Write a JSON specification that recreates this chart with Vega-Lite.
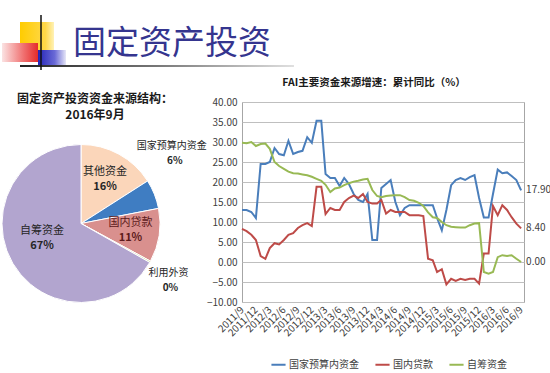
{
  "$schema": "https://vega.github.io/schema/vega-lite/v6.json",
  "padding": 0,
  "background": "white",
  "config": {"font": "Noto Sans CJK SC", "view": {"stroke": null}},
  "bounds": "flush",
  "spacing": 32,
  "resolve": {"scale": {"color": "independent"}},
  "vconcat": [
    {
      "width": 550,
      "height": 70,
      "data": {"values": [{"t": "固定资产投资"}]},
      "layer": [
        {
          "mark": {"type": "rect", "color": {"gradient": "linear", "stops": [{"offset": 0, "color": "#FFCC00"}, {"offset": 0.75, "color": "#FFD84A"}, {"offset": 1, "color": "#FFF2B8"}]}},
          "encoding": {
            "x": {"datum": 18, "type": "quantitative", "scale": {"domain": [0, 550], "nice": false, "zero": false}, "axis": null},
            "x2": {"datum": 52},
            "y": {"datum": 22, "type": "quantitative", "scale": {"domain": [0, 70], "reverse": true, "nice": false, "zero": false}, "axis": null},
            "y2": {"datum": 50}
          }
        },
        {
          "mark": {"type": "rect", "color": {"gradient": "linear", "stops": [{"offset": 0, "color": "#FBE3E3"}, {"offset": 0.6, "color": "#F07070"}, {"offset": 1, "color": "#E52B2B"}]}},
          "encoding": {
            "x": {"datum": 0, "type": "quantitative"},
            "x2": {"datum": 36},
            "y": {"datum": 43, "type": "quantitative"},
            "y2": {"datum": 62}
          }
        },
        {
          "mark": {"type": "rect", "color": {"gradient": "linear", "stops": [{"offset": 0, "color": "#2424B8"}, {"offset": 0.6, "color": "#6A6AD6"}, {"offset": 1, "color": "#E6E6F7"}]}},
          "encoding": {
            "x": {"datum": 36, "type": "quantitative"},
            "x2": {"datum": 64},
            "y": {"datum": 50, "type": "quantitative"},
            "y2": {"datum": 66}
          }
        },
        {
          "mark": {"type": "rect", "color": {"gradient": "linear", "stops": [{"offset": 0, "color": "#222222"}, {"offset": 0.5, "color": "#777777"}, {"offset": 1, "color": "#E0E0E0"}]}},
          "encoding": {
            "x": {"datum": 18, "type": "quantitative"},
            "x2": {"datum": 292},
            "y": {"datum": 65, "type": "quantitative"},
            "y2": {"datum": 67}
          }
        },
        {
          "mark": {"type": "rule", "color": "#111111", "strokeWidth": 1.5},
          "encoding": {
            "x": {"datum": 39, "type": "quantitative"},
            "y": {"datum": 15, "type": "quantitative"},
            "y2": {"datum": 70}
          }
        },
        {
          "mark": {"type": "text", "align": "left", "baseline": "middle", "fontSize": 33, "color": "#35358F"},
          "encoding": {
            "x": {"datum": 71, "type": "quantitative"},
            "y": {"datum": 44, "type": "quantitative"},
            "text": {"field": "t"}
          }
        }
      ]
    },
    {
      "hconcat": [
        {
          "width": 158,
          "height": 243,
          "data": {"values": [
            {"name": "其他资金", "value": 0.16, "k": 1},
            {"name": "国家预算内资金", "value": 0.06, "k": 2},
            {"name": "国内贷款", "value": 0.11, "k": 3},
            {"name": "利用外资", "value": 0.003, "k": 4},
            {"name": "自筹资金", "value": 0.67, "k": 5}
          ]},
          "title": {"text": ["固定资产投资资金来源结构：", "2016年9月"], "fontSize": 12, "fontWeight": "bold", "offset": -20, "frame": "group", "anchor": "middle", "dx": 14, "lineHeight": 16, "color": "#1a1a1a"},
          "encoding": {
            "theta": {"field": "value", "type": "quantitative", "stack": true},
            "order": {"field": "k", "type": "quantitative"},
            "detail": {"field": "name", "type": "nominal"}
          },
          "layer": [
            {
              "mark": {"type": "arc", "stroke": "#ffffff", "strokeWidth": 1},
              "encoding": {
                "color": {"field": "name", "type": "nominal", "scale": {"domain": ["其他资金", "国家预算内资金", "国内贷款", "利用外资", "自筹资金"], "range": ["#FBD6BA", "#3F7DC2", "#D9908E", "#C4CF8A", "#B2A5CF"]}, "legend": null}
              }
            },
            {
              "mark": {
                "type": "text",
                "radius": {"expr": "datum.k == 2 || datum.k == 4 ? 100 : (datum.k == 5 ? 45 : 50)"},
                "dy": {"expr": "datum.k == 2 ? -40 : (datum.k == 4 ? 1 : (datum.k == 5 ? -15 : -8))"},
                "dx": {"expr": "datum.k == 2 ? -2 : 0"},
                "fontSize": {"expr": "datum.k == 2 || datum.k == 4 ? 10 : 11"}
              },
              "encoding": {
                "text": {"field": "name"},
                "color": {"condition": {"test": "datum.k == 3", "value": "#5C1A1A"}, "value": "#262626"}
              }
            },
            {
              "mark": {
                "type": "text",
                "fontWeight": "bold",
                "radius": {"expr": "datum.k == 2 || datum.k == 4 ? 100 : (datum.k == 5 ? 45 : 50)"},
                "dy": {"expr": "datum.k == 2 ? -25 : (datum.k == 4 ? 16 : (datum.k == 5 ? 0 : 7))"},
                "dx": {"expr": "datum.k == 2 ? 1 : (datum.k == 4 ? 2 : 0)"},
                "fontSize": {"expr": "datum.k == 2 || datum.k == 4 ? 10 : 11"}
              },
              "encoding": {
                "text": {"field": "value", "format": ".0%"},
                "color": {"condition": {"test": "datum.k == 3", "value": "#5C1A1A"}, "value": "#262626"}
              }
            }
          ]
        },
        {
          "width": 282,
          "height": 200,
          "view": {"stroke": "#A6A6A6"},
          "title": {"text": "FAI主要资金来源增速：累计同比（%）", "fontSize": 10.5, "fontWeight": "bold", "offset": 9, "frame": "group", "anchor": "middle", "dx": -9, "color": "#1a1a1a"},
          "data": {"values": [
            {"d": "2011-09-01", "国家预算内资金": 13.0, "国内贷款": 8.3, "自筹资金": 29.8},
            {"d": "2011-10-01", "国家预算内资金": 13.0, "国内贷款": 7.7, "自筹资金": 29.7},
            {"d": "2011-11-01", "国家预算内资金": 12.5, "国内贷款": 6.8, "自筹资金": 30.0},
            {"d": "2011-12-01", "国家预算内资金": 11.0, "国内贷款": 5.5, "自筹资金": 29.0},
            {"d": "2012-01-01", "国家预算内资金": 24.5, "国内贷款": 1.5, "自筹资金": 29.5},
            {"d": "2012-02-01", "国家预算内资金": 24.5, "国内贷款": 0.8, "自筹资金": 29.6},
            {"d": "2012-03-01", "国家预算内资金": 25.0, "国内贷款": 3.5, "自筹资金": 28.3},
            {"d": "2012-04-01", "国家预算内资金": 28.5, "国内贷款": 4.7, "自筹资金": 25.0},
            {"d": "2012-05-01", "国家预算内资金": 27.0, "国内贷款": 4.4, "自筹资金": 24.0},
            {"d": "2012-06-01", "国家预算内资金": 26.7, "国内贷款": 5.5, "自筹资金": 23.3},
            {"d": "2012-07-01", "国家预算内资金": 30.3, "国内贷款": 6.8, "自筹资金": 22.6},
            {"d": "2012-08-01", "国家预算内资金": 27.0, "国内贷款": 7.2, "自筹资金": 22.2},
            {"d": "2012-09-01", "国家预算内资金": 27.5, "国内贷款": 8.5, "自筹资金": 22.1},
            {"d": "2012-10-01", "国家预算内资金": 27.8, "国内贷款": 9.2, "自筹资金": 21.9},
            {"d": "2012-11-01", "国家预算内资金": 31.2, "国内贷款": 9.7, "自筹资金": 21.7},
            {"d": "2012-12-01", "国家预算内资金": 29.8, "国内贷款": 9.0, "自筹资金": 21.3},
            {"d": "2013-01-01", "国家预算内资金": 35.3, "国内贷款": 18.8, "自筹资金": 20.8},
            {"d": "2013-02-01", "国家预算内资金": 35.3, "国内贷款": 18.8, "自筹资金": 20.3},
            {"d": "2013-03-01", "国家预算内资金": 22.0, "国内贷款": 12.0, "自筹资金": 19.3},
            {"d": "2013-04-01", "国家预算内资金": 21.0, "国内贷款": 13.5, "自筹资金": 17.5},
            {"d": "2013-05-01", "国家预算内资金": 21.0, "国内贷款": 13.0, "自筹资金": 18.4},
            {"d": "2013-06-01", "国家预算内资金": 19.0, "国内贷款": 13.0, "自筹资金": 18.6},
            {"d": "2013-07-01", "国家预算内资金": 21.0, "国内贷款": 15.0, "自筹资金": 19.2},
            {"d": "2013-08-01", "国家预算内资金": 19.5, "国内贷款": 16.0, "自筹资金": 19.7},
            {"d": "2013-09-01", "国家预算内资金": 17.0, "国内贷款": 16.6, "自筹资金": 20.1},
            {"d": "2013-10-01", "国家预算内资金": 15.5, "国内贷款": 16.0, "自筹资金": 20.3},
            {"d": "2013-11-01", "国家预算内资金": 15.0, "国内贷款": 17.0, "自筹资金": 20.6},
            {"d": "2013-12-01", "国家预算内资金": 17.0, "国内贷款": 15.0, "自筹资金": 20.8},
            {"d": "2014-01-01", "国家预算内资金": 5.5, "国内贷款": 14.6, "自筹资金": 18.0},
            {"d": "2014-02-01", "国家预算内资金": 5.5, "国内贷款": 14.6, "自筹资金": 16.5},
            {"d": "2014-03-01", "国家预算内资金": 18.5, "国内贷款": 15.5, "自筹资金": 16.2},
            {"d": "2014-04-01", "国家预算内资金": 19.5, "国内贷款": 12.1, "自筹资金": 16.5},
            {"d": "2014-05-01", "国家预算内资金": 20.5, "国内贷款": 13.0, "自筹资金": 16.6},
            {"d": "2014-06-01", "国家预算内资金": 15.0, "国内贷款": 12.5, "自筹资金": 16.7},
            {"d": "2014-07-01", "国家预算内资金": 11.7, "国内贷款": 12.5, "自筹资金": 16.7},
            {"d": "2014-08-01", "国家预算内资金": 13.5, "国内贷款": 12.5, "自筹资金": 16.2},
            {"d": "2014-09-01", "国家预算内资金": 14.2, "国内贷款": 11.7, "自筹资金": 15.5},
            {"d": "2014-10-01", "国家预算内资金": 14.2, "国内贷款": 11.7, "自筹资金": 15.3},
            {"d": "2014-11-01", "国家预算内资金": 14.2, "国内贷款": 11.7, "自筹资金": 14.8},
            {"d": "2014-12-01", "国家预算内资金": 14.2, "国内贷款": 11.5, "自筹资金": 14.0},
            {"d": "2015-01-01", "国家预算内资金": 14.2, "国内贷款": 0.8, "自筹资金": 12.4},
            {"d": "2015-02-01", "国家预算内资金": 14.2, "国内贷款": 0.4, "自筹资金": 11.2},
            {"d": "2015-03-01", "国家预算内资金": 11.0, "国内贷款": -2.5, "自筹资金": 11.0},
            {"d": "2015-04-01", "国家预算内资金": 7.9, "国内贷款": -1.8, "自筹资金": 10.0},
            {"d": "2015-05-01", "国家预算内资金": 13.0, "国内贷款": -5.6, "自筹资金": 9.2},
            {"d": "2015-06-01", "国家预算内资金": 19.2, "国内贷款": -4.2, "自筹资金": 8.8},
            {"d": "2015-07-01", "国家预算内资金": 20.5, "国内贷款": -4.7, "自筹资金": 8.7},
            {"d": "2015-08-01", "国家预算内资金": 21.0, "国内贷款": -4.2, "自筹资金": 8.6},
            {"d": "2015-09-01", "国家预算内资金": 20.5, "国内贷款": -4.5, "自筹资金": 8.6},
            {"d": "2015-10-01", "国家预算内资金": 21.2, "国内贷款": -4.2, "自筹资金": 9.2},
            {"d": "2015-11-01", "国家预算内资金": 21.7, "国内贷款": -4.2, "自筹资金": 9.6},
            {"d": "2015-12-01", "国家预算内资金": 16.0, "国内贷款": -5.4, "自筹资金": 9.7},
            {"d": "2016-01-01", "国家预算内资金": 11.1, "国内贷款": 2.1, "自筹资金": -2.5},
            {"d": "2016-02-01", "国家预算内资金": 11.1, "国内贷款": 2.1, "自筹资金": -2.9},
            {"d": "2016-03-01", "国家预算内资金": 17.0, "国内贷款": 14.0, "自筹资金": -2.5},
            {"d": "2016-04-01", "国家预算内资金": 23.1, "国内贷款": 11.7, "自筹资金": 1.2},
            {"d": "2016-05-01", "国家预算内资金": 22.2, "国内贷款": 14.2, "自筹资金": 1.7},
            {"d": "2016-06-01", "国家预算内资金": 22.4, "国内贷款": 13.0, "自筹资金": 1.5},
            {"d": "2016-07-01", "国家预算内资金": 21.5, "国内贷款": 11.2, "自筹资金": 1.7},
            {"d": "2016-08-01", "国家预算内资金": 20.5, "国内贷款": 9.6, "自筹资金": 0.8},
            {"d": "2016-09-01", "国家预算内资金": 17.9, "国内贷款": 8.4, "自筹资金": 0.0}
          ]},
          "transform": [{"fold": ["国家预算内资金", "国内贷款", "自筹资金"], "as": ["key", "value"]}],
          "encoding": {
            "x": {
              "field": "d", "type": "temporal", "timeUnit": "utcyearmonth",
              "scale": {"domain": [{"year": 2011, "month": 9, "date": 1, "utc": true}, {"year": 2016, "month": 9, "date": 20, "utc": true}]},
              "axis": {
                "title": null, "format": "%Y/%-m", "labelAngle": -45, "labelAlign": "right", "labelBaseline": "middle",
                "labelOverlap": false, "labelFontSize": 10, "labelColor": "#404040", "labelPadding": 6,
                "ticks": false, "domain": false, "grid": false,
                "values": [
                  {"year": 2011, "month": 9, "date": 1, "utc": true}, {"year": 2011, "month": 12, "date": 1, "utc": true},
                  {"year": 2012, "month": 3, "date": 1, "utc": true}, {"year": 2012, "month": 6, "date": 1, "utc": true},
                  {"year": 2012, "month": 9, "date": 1, "utc": true}, {"year": 2012, "month": 12, "date": 1, "utc": true},
                  {"year": 2013, "month": 3, "date": 1, "utc": true}, {"year": 2013, "month": 6, "date": 1, "utc": true},
                  {"year": 2013, "month": 9, "date": 1, "utc": true}, {"year": 2013, "month": 12, "date": 1, "utc": true},
                  {"year": 2014, "month": 3, "date": 1, "utc": true}, {"year": 2014, "month": 6, "date": 1, "utc": true},
                  {"year": 2014, "month": 9, "date": 1, "utc": true}, {"year": 2014, "month": 12, "date": 1, "utc": true},
                  {"year": 2015, "month": 3, "date": 1, "utc": true}, {"year": 2015, "month": 6, "date": 1, "utc": true},
                  {"year": 2015, "month": 9, "date": 1, "utc": true}, {"year": 2015, "month": 12, "date": 1, "utc": true},
                  {"year": 2016, "month": 3, "date": 1, "utc": true}, {"year": 2016, "month": 6, "date": 1, "utc": true},
                  {"year": 2016, "month": 9, "date": 1, "utc": true}
                ]
              }
            },
            "y": {
              "field": "value", "type": "quantitative",
              "scale": {"domain": [-10, 40], "nice": false, "zero": false},
              "axis": {"title": null, "values": [-10, -5, 0, 5, 10, 15, 20, 25, 30, 35, 40], "format": ".2f", "grid": true, "gridColor": "#BFBFBF", "domain": false, "ticks": false, "labelPadding": 5, "labelFontSize": 10, "labelColor": "#404040"}
            },
            "color": {
              "field": "key", "type": "nominal",
              "scale": {"domain": ["国家预算内资金", "国内贷款", "自筹资金"], "range": ["#4A7EBB", "#BE4B48", "#98B954"]},
              "legend": {"title": null, "orient": "none", "legendX": 28, "legendY": 254, "direction": "horizontal", "symbolType": "stroke", "symbolStrokeWidth": 2, "symbolSize": 200, "labelFontSize": 10, "labelColor": "#404040", "columnPadding": 12, "labelOffset": 2, "padding": 0}
            }
          },
          "layer": [
            {"mark": {"type": "line", "strokeWidth": 2}},
            {
              "transform": [{"filter": "utcyear(datum.d) == 2016 && utcmonth(datum.d) == 8"}],
              "mark": {"type": "text", "align": "left", "baseline": "middle", "dx": 5, "fontSize": 10},
              "encoding": {
                "text": {"field": "value", "type": "quantitative", "format": ".2f"},
                "color": {"value": "#404040"}
              }
            }
          ]
        }
      ],
      "spacing": 82,
      "bounds": "flush",
      "resolve": {"scale": {"color": "independent"}}
    }
  ]
}
